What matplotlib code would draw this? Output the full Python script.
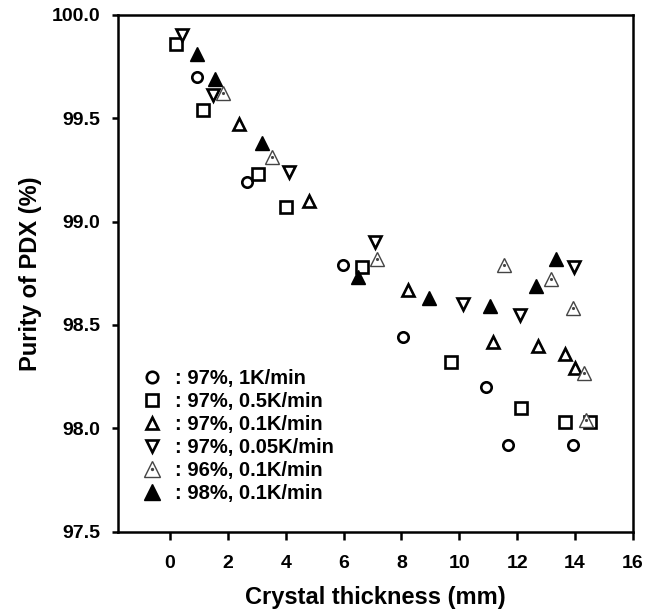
import matplotlib
matplotlib.use("Agg")
import matplotlib.pyplot as plt  # noqa: E402
from matplotlib.legend_handler import HandlerTuple  # noqa: E402

plt.rcParams["font.family"] = ["Liberation Sans", "DejaVu Sans"]
plt.rcParams["font.weight"] = "bold"

# crystal thickness (mm) / purity (%) per growth condition
x_97_1 = [0.92, 2.65, 5.97, 8.06, 10.94, 11.69, 13.94]
y_97_1 = [99.70, 99.19, 98.79, 98.44, 98.20, 97.92, 97.92]

x_97_05 = [0.21, 1.15, 3.05, 4.01, 6.62, 9.73, 12.15, 13.65, 14.51]
y_97_05 = [99.86, 99.54, 99.23, 99.07, 98.78, 98.32, 98.10, 98.03, 98.03]

x_97_01 = [2.40, 4.81, 8.24, 11.17, 12.73, 13.65, 13.99]
y_97_01 = [99.47, 99.10, 98.67, 98.42, 98.40, 98.36, 98.29]

x_97_005 = [0.40, 1.50, 4.12, 7.08, 10.13, 12.09, 13.96]
y_97_005 = [99.90, 99.61, 99.24, 98.90, 98.60, 98.55, 98.78]

x_96_01 = [1.84, 3.51, 7.14, 11.54, 13.19, 13.94, 14.32, 14.37]
y_96_01 = [99.62, 99.31, 98.82, 98.79, 98.72, 98.58, 98.27, 98.04]

x_98_01 = [0.94, 1.55, 3.19, 6.51, 8.96, 11.08, 12.67, 13.34]
y_98_01 = [99.81, 99.69, 99.38, 98.73, 98.63, 98.59, 98.69, 98.82]

labels = [": 97%, 1K/min", ": 97%, 0.5K/min", ": 97%, 0.1K/min",
          ": 97%, 0.05K/min", ": 96%, 0.1K/min", ": 98%, 0.1K/min"]

fig = plt.figure(figsize=(6.45, 6.12), dpi=100)
ax = fig.add_axes([0.183, 0.131, 0.798, 0.845])

open_kw = dict(linestyle="none", markerfacecolor="white", markeredgecolor="black",
               markeredgewidth=1.9)
h1, = ax.plot(x_97_1, y_97_1, marker="o", markersize=7.5, **open_kw)
h2, = ax.plot(x_97_05, y_97_05, marker="s", markersize=8.5, **open_kw)
h3, = ax.plot(x_97_01, y_97_01, marker="^", markersize=8.5, **open_kw)
h4, = ax.plot(x_97_005, y_97_005, marker="v", markersize=8.5, **open_kw)
h5, = ax.plot(x_96_01, y_96_01, marker="^", markersize=10.5, linestyle="none",
              markerfacecolor="white", markeredgecolor="#444444", markeredgewidth=1.0)
h5d, = ax.plot(x_96_01, y_96_01, marker=".", markersize=2.5, linestyle="none",
               color="#444444")
h6, = ax.plot(x_98_01, y_98_01, marker="^", markersize=10.5, linestyle="none",
              color="black")

ax.set_xlim(-1.8, 16)
ax.set_ylim(97.5, 100.0)
ax.set_xticks(range(0, 17, 2))
ax.set_yticks([97.5, 98.0, 98.5, 99.0, 99.5, 100.0])
ax.set_yticklabels(["97.5", "98.0", "98.5", "99.0", "99.5", "100.0"])

for s in ax.spines.values():
    s.set_linewidth(1.8)
ax.tick_params(axis="x", direction="out", length=6, width=1.8, pad=11, labelsize=14)
ax.tick_params(axis="y", direction="out", length=4, width=1.8, pad=9, labelsize=14)
for t in ax.get_xticklabels() + ax.get_yticklabels():
    t.set_fontweight("bold")

ax.set_xlabel("Crystal thickness (mm)", fontsize=17, fontweight="bold", labelpad=10)
ax.set_ylabel("Purity of PDX (%)", fontsize=17, fontweight="bold", labelpad=7)

# the 96% markers are an outline plus a centre dot, overlaid in the legend too
leg = ax.legend([h1, h2, h3, h4, (h5, h5d), h6], labels,
                handler_map={tuple: HandlerTuple(ndivide=1, pad=0)},
                loc="lower left", bbox_to_anchor=(0.031, 0.04), frameon=False,
                handlelength=1.0, handletextpad=0.65, labelspacing=0.2,
                markerscale=1.1, prop=dict(size=14.5, weight="bold"),
                borderaxespad=0)

fig.savefig("out.png", dpi=100)
